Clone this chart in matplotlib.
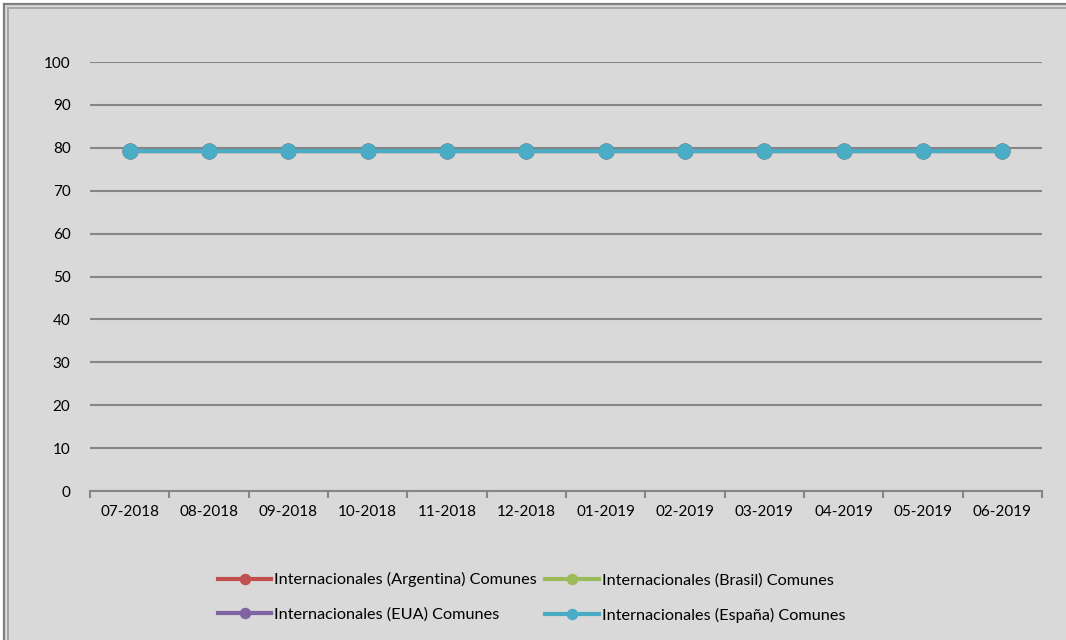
import numpy as np
import matplotlib
matplotlib.use("Agg")
import matplotlib.pyplot as plt
from matplotlib.patches import Rectangle
from matplotlib.lines import Line2D

# data
months = ['07-2018', '08-2018', '09-2018', '10-2018', '11-2018', '12-2018',
          '01-2019', '02-2019', '03-2019', '04-2019', '05-2019', '06-2019']
argentina = [79.3] * 12
brasil = [79.3] * 12
eua = [79.3] * 12
espana = [79.3] * 12

series = [
    ('Internacionales (Argentina) Comunes', argentina, '#c0504d'),
    ('Internacionales (Brasil) Comunes', brasil, '#9bbb59'),
    ('Internacionales (EUA) Comunes', eua, '#8064a2'),
    ('Internacionales (España) Comunes', espana, '#4bacc6'),
]

plt.rcParams['font.family'] = ['Lato', 'DejaVu Sans']
bg = '#d9d9d9'
W, H = 1066, 640

fig = plt.figure(figsize=(W / 100, H / 100), dpi=100, facecolor=bg)

def px(xp, yp):
    return xp / W, 1 - yp / H

# white margin outside the chart area, double frame on top and left
x0, y0 = px(3, 3)
fig.patches.append(Rectangle((0, 0), x0, 1, transform=fig.transFigure,
                             facecolor='white', edgecolor='none', zorder=-10))
fig.patches.append(Rectangle((0, y0), 1, 1 - y0, transform=fig.transFigure,
                             facecolor='white', edgecolor='none', zorder=-10))
for off, col, lw in ((4, '#7f7f7f', 1.6), (8, '#a6a6a6', 1.4)):
    xa, ya = px(off, off)
    fig.add_artist(Line2D([xa, xa], [0, ya], color=col, linewidth=lw, transform=fig.transFigure))
    fig.add_artist(Line2D([xa, 1], [ya, ya], color=col, linewidth=lw, transform=fig.transFigure))

ax = fig.add_axes([0.0844, 0.2328, 0.8931, 0.6703])
ax.set_facecolor(bg)

x = np.arange(len(months))
handles = []
for name, vals, col in series:
    h, = ax.plot(x, vals, color=col, linewidth=3, marker='o', markersize=10.5,
                 label=name, zorder=3)
    handles.append(h)

ax.set_xlim(-0.5, len(months) - 0.5)
ax.set_ylim(0, 100)
ax.set_yticks(range(0, 101, 10))
ax.yaxis.grid(True, color='#868686', linewidth=1.5)
ax.set_axisbelow(True)
for s in ('top', 'right', 'left'):
    ax.spines[s].set_visible(False)
ax.spines['bottom'].set_color('#868686')
ax.spines['bottom'].set_linewidth(1.5)
ax.tick_params(axis='y', length=0, pad=14, labelsize=11)
ax.set_xticks(x)
ax.set_xticklabels(months)
ax.set_xticks(np.arange(-0.5, len(months)), minor=True)
ax.tick_params(axis='x', which='major', length=0, pad=10, labelsize=11)
ax.tick_params(axis='x', which='minor', length=5, color='#868686', width=1.5)

# legend order: row1 Argentina, Brasil; row2 EUA, España
order = [0, 2, 1, 3]
fig.legend([handles[i] for i in order], [series[i][0] for i in order],
           ncol=2, frameon=False, loc='center', bbox_to_anchor=(0.4986, 0.0664),
           fontsize=11.7, handlelength=3.3, handletextpad=0.18, columnspacing=0.5,
           labelspacing=1.24, markerscale=0.69, borderpad=0)

fig.savefig('out.png', dpi=100, facecolor=bg)
